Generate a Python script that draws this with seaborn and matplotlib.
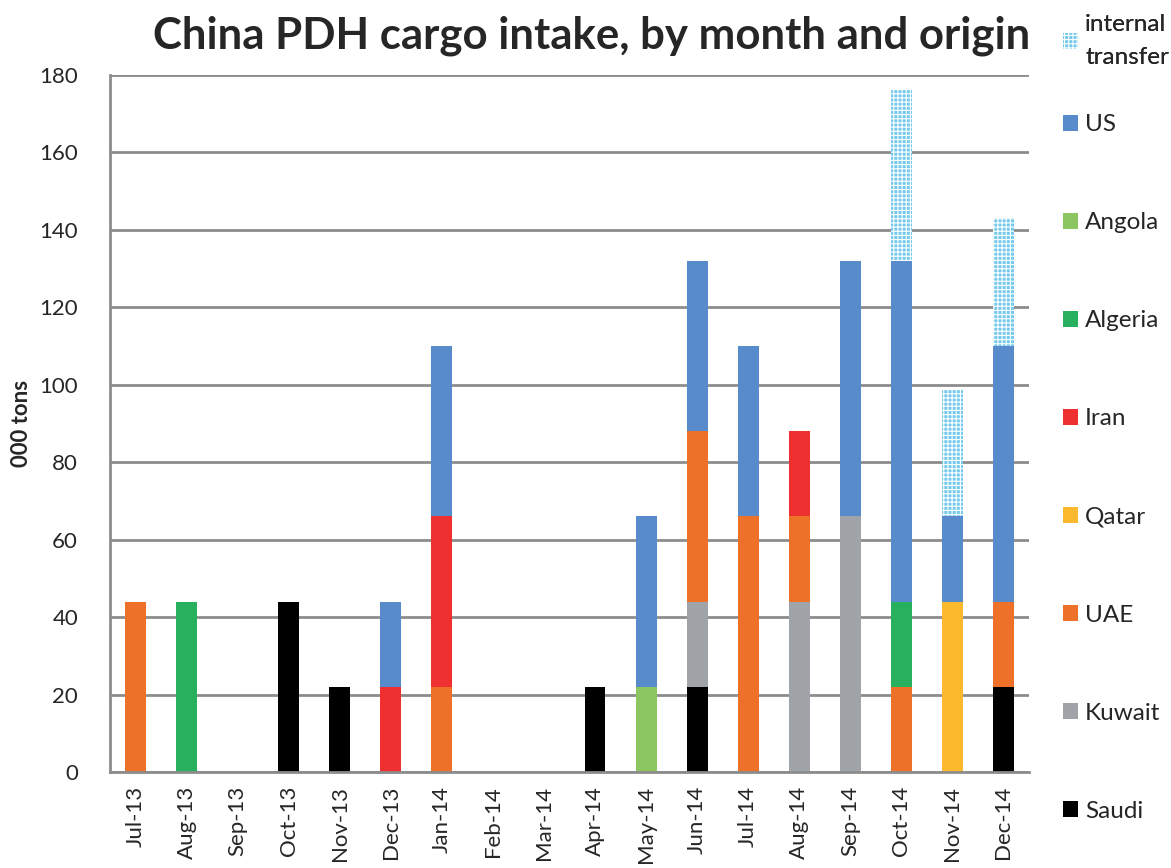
import seaborn as sns
import matplotlib.pyplot as plt
import pandas as pd
import numpy as np
from matplotlib.patches import Patch

# ---------------------------
# Data (000 tons)
# ---------------------------
months = ["Jul-13", "Aug-13", "Sep-13", "Oct-13", "Nov-13", "Dec-13",
          "Jan-14", "Feb-14", "Mar-14", "Apr-14", "May-14", "Jun-14",
          "Jul-14", "Aug-14", "Sep-14", "Oct-14", "Nov-14", "Dec-14"]

saudi    = [0, 0, 0, 44, 22, 0, 0, 0, 0, 22, 0, 22, 0, 0, 0, 0, 0, 22]
kuwait   = [0, 0, 0, 0, 0, 0, 0, 0, 0, 0, 0, 22, 0, 44, 66, 0, 0, 0]
uae      = [44, 0, 0, 0, 0, 0, 22, 0, 0, 0, 0, 44, 66, 22, 0, 22, 0, 22]
qatar    = [0, 0, 0, 0, 0, 0, 0, 0, 0, 0, 0, 0, 0, 0, 0, 0, 44, 0]
iran     = [0, 0, 0, 0, 0, 22, 44, 0, 0, 0, 0, 0, 0, 22, 0, 0, 0, 0]
algeria  = [0, 44, 0, 0, 0, 0, 0, 0, 0, 0, 0, 0, 0, 0, 0, 22, 0, 0]
angola   = [0, 0, 0, 0, 0, 0, 0, 0, 0, 0, 22, 0, 0, 0, 0, 0, 0, 0]
us       = [0, 0, 0, 0, 0, 22, 44, 0, 0, 0, 44, 44, 44, 0, 66, 88, 22, 66]
internal = [0, 0, 0, 0, 0, 0, 0, 0, 0, 0, 0, 0, 0, 0, 0, 44, 33, 33]

series = [
    ("Saudi", saudi, "#000000", None),
    ("Kuwait", kuwait, "#A0A3A8", None),
    ("UAE", uae, "#ED7128", None),
    ("Qatar", qatar, "#FDB92E", None),
    ("Iran", iran, "#EE3130", None),
    ("Algeria", algeria, "#27B05E", None),
    ("Angola", angola, "#8CC660", None),
    ("US", us, "#588BCB", None),
    ("internal\ntransfer", internal, "#74C9EC", "++++"),
]

# ---------------------------
# Styling
# ---------------------------
sns.set_style("white")
plt.rcParams["font.family"] = ["Lato", "DejaVu Sans"]
plt.rcParams["hatch.linewidth"] = 0.8

W, H = 1171, 868
fig = plt.figure(figsize=(W / 100, H / 100), dpi=100)
ax = fig.add_axes([110 / W, 1 - 772 / H, (1029 - 110) / W, (772 - 75) / H])

bottom = np.zeros(len(months))
for name, vals, color, hatch in series:
    vals = np.array(vals, dtype=float)
    sns.barplot(x=months, y=vals, bottom=bottom, color=color, width=0.41,
                ax=ax, saturation=1, errorbar=None,
                hatch=hatch, edgecolor="white" if hatch else color,
                linewidth=0)
    bottom += vals

# ---------------------------
# Axes
# ---------------------------
ax.set_xlim(-0.5, len(months) - 0.5)
ax.set_ylim(0, 180)
ax.set_yticks(range(0, 181, 20))
ax.yaxis.grid(True, color="#8C8C8C", linewidth=2)
ax.set_axisbelow(True)
for s in ["top", "right"]:
    ax.spines[s].set_visible(False)
for s in ["left", "bottom"]:
    ax.spines[s].set_color("#8C8C8C")
    ax.spines[s].set_linewidth(2)

ax.set_xticks(range(len(months)))
ax.set_xticklabels(months, rotation=90, fontsize=16)
ax.set_xticks(np.arange(-0.5, len(months), 1), minor=True)
ax.tick_params(axis="x", which="major", length=0, pad=10)
ax.tick_params(axis="x", which="minor", length=8, width=2, color="#8C8C8C")
ax.tick_params(axis="y", length=9, width=2, color="#8C8C8C", labelsize=16, pad=14)
ax.set_xlabel("")
ax.set_ylabel("000 tons", fontsize=16, fontweight="bold")
ax.yaxis.set_label_coords(-(110 - 32) / (1029 - 110), 0.5)

fig.text(592 / W, 1 - 36 / H, "China PDH cargo intake, by month and origin",
         fontsize=31.5, fontweight="bold", ha="center", va="center")

# ---------------------------
# Legend (reverse order): transfer entry on top, the rest spread below
# ---------------------------
handles = [Patch(facecolor=c, edgecolor="white" if h else c, hatch=h, linewidth=0, label=n)
           for n, v, c, h in series][::-1]
leg_kw = dict(frameon=False, fontsize=17.5, handlelength=0.62, handleheight=0.62,
              handletextpad=0.29, borderpad=0, borderaxespad=0)

leg1 = fig.legend(handles=handles[:1], loc="center left",
                  bbox_to_anchor=(1063 / W, 1 - 41 / H), **leg_kw)
leg1.get_texts()[0].set_linespacing(1.75)
fig.add_artist(leg1)
fig.legend(handles=handles[1:], loc="center left",
           bbox_to_anchor=(1063 / W, 1 - 468 / H), labelspacing=3.17, **leg_kw)

plt.savefig("out.png", dpi=100)
plt.close()
